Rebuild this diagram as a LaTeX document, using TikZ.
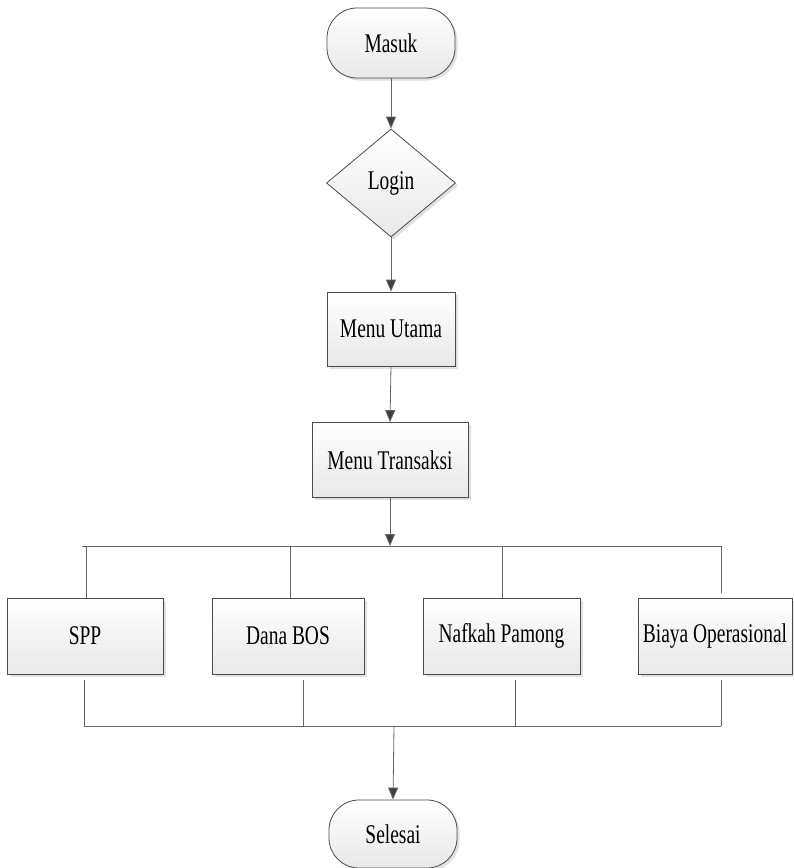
\documentclass[tikz,border=0pt]{standalone}
\usepackage{fontspec}
\newfontfamily\flowfont[FakeStretch=0.72]{Liberation Serif}
\usetikzlibrary{arrows.meta,shapes.geometric,shadows}
\begin{document}
\begin{tikzpicture}[x=1pt,y=-1pt,
  base/.style={draw=black!70, line width=0.8pt, top color=white, bottom color=black!9,
    drop shadow={shadow xshift=2.5pt, shadow yshift=-2.5pt, fill=black!12, opacity=1},
    font=\flowfont\fontsize{27}{32}\selectfont, inner sep=0pt, text=black},
  terminal/.style={base, rectangle, rounded corners=30pt, minimum width=128pt, minimum height=70pt},
  decision/.style={base, diamond, minimum width=129pt, minimum height=108pt},
  process/.style={base, rectangle, minimum height=76pt},
  link/.style={draw=black!60, line width=0.8pt},
  flow/.style={link, -{Triangle[length=12pt,width=10pt]}, arrows={[fill=black!75]}}
]
\useasboundingbox (0,0) rectangle (793,868);

% main sequence
\node[terminal] (masuk) at (391,43) {Masuk};
\node[decision] (login) at (391,183) {Login};
\node[process, minimum width=128pt, minimum height=74pt] (utama) at (391,329) {Menu Utama};
\node[process, minimum width=156pt, minimum height=75pt] (trans) at (390,460) {Menu Transaksi};

% transaction branches
\node[process, minimum width=156pt] (spp) at (85,636) {SPP};
\node[process, minimum width=152pt] (bos) at (288,636) {Dana BOS};
\node[process, minimum width=157pt] (nafkah) at (501.5,636) {Nafkah Pamong};
\node[process, minimum width=154pt] (biaya) at (715,636) {Biaya Operasional};

\node[terminal, minimum height=68pt] (selesai) at (393,834) {Selesai};

% branch buses
\coordinate (split) at (390,546);
\coordinate (splitL) at (82,546);
\coordinate (splitR) at (721,546);
\coordinate (s1) at (86,546);
\coordinate (s2) at (290,546);
\coordinate (s3) at (502,546);
\coordinate (s4) at (721,546);

\coordinate (joinL) at (84,726);
\coordinate (joinR) at (721,726);
\coordinate (join) at (394,726);
\coordinate (j1) at (84,726);
\coordinate (j2) at (303,726);
\coordinate (j3) at (515,726);
\coordinate (j4) at (721,726);

% connectors
\draw[flow] (masuk.south) -- (login.north);
\draw[flow] (login.south) -- (utama.north);
\draw[flow] (utama.south) -- (trans.north);
\draw[flow] (trans.south) -- (split);

\draw[link] (splitL) -- (splitR);
\draw[link] (s1) -- (s1 |- spp.north);
\draw[link] (s2) -- (s2 |- bos.north);
\draw[link] (s3) -- (s3 |- nafkah.north);
\draw[link] (s4) -- ([yshift=5pt]s4 |- biaya.north);

\draw[link] ([yshift=-6pt]j1 |- spp.south) -- (j1);
\draw[link] ([yshift=-6pt]j2 |- bos.south) -- (j2);
\draw[link] ([yshift=-6pt]j3 |- nafkah.south) -- (j3);
\draw[link] ([yshift=-6pt]j4 |- biaya.south) -- (j4);
\draw[link] (joinL) -- (joinR);

\draw[flow] (join) -- (selesai.north);
\end{tikzpicture}
\end{document}
